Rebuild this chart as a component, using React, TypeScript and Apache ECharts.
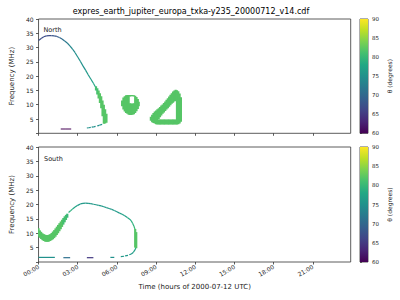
import React, { useEffect, useRef } from 'react';
import * as echarts from 'echarts';

const TITLE = 'expres_earth_jupiter_europa_txka-y235_20000712_v14.cdf';
const X_TICKS = [0, 3, 6, 9, 12, 15, 18, 21];
const VIRIDIS = ['#440154', '#482475', '#414487', '#355f8d', '#2a788e', '#21918c', '#22a884', '#44bf70', '#7ad151', '#bddf26', '#fde725'];

// thin emission tracks: [hour, MHz, theta]
const NORTH_ARC = [
  [0.0, 32.5, 67], [0.2, 33.2, 67], [0.4, 33.8, 67], [0.6, 34.1, 67], [0.8, 34.2, 67], [1.0, 34.2, 68],
  [1.2, 34.1, 68], [1.4, 33.9, 69], [1.6, 33.5, 70], [1.8, 33.0, 71], [2.0, 32.3, 72], [2.2, 31.6, 73],
  [2.4, 30.6, 74], [2.6, 29.5, 74], [2.8, 28.2, 75], [3.0, 26.7, 75], [3.2, 25.2, 75], [3.4, 23.6, 75],
  [3.6, 22.1, 76], [3.8, 20.5, 76], [4.0, 19.0, 77], [4.2, 17.5, 78], [4.35, 16.3, 79],
];
const NORTH_HOOK_1 = [[3.7, 1.85, 75], [3.85, 1.95, 75], [4.0, 2.1, 75]];
const NORTH_HOOK_2 = [[4.07, 2.15, 75], [4.22, 2.27, 75], [4.37, 2.4, 75]];
const NORTH_HOOK_3 = [[4.5, 2.6, 75], [4.65, 2.8, 75], [4.87, 3.1, 76]];
const NORTH_LOW_DASH = [[1.7, 1.5, 60], [2.1, 1.5, 60], [2.5, 1.5, 60]];

const SOUTH_ARC = [
  [2.3, 17.2, 79], [2.45, 17.8, 79], [2.6, 18.4, 78], [2.8, 19.1, 77], [3.0, 19.7, 76], [3.2, 20.2, 76], [3.4, 20.4, 76],
  [3.6, 20.5, 76], [3.8, 20.4, 76], [4.0, 20.3, 76], [4.2, 20.1, 76], [4.4, 19.9, 76], [4.6, 19.7, 76], [4.8, 19.5, 76],
  [5.0, 19.2, 76], [5.2, 18.9, 76], [5.4, 18.6, 76], [5.6, 18.3, 76], [5.8, 17.9, 76], [6.0, 17.5, 76], [6.2, 17.0, 77],
  [6.4, 16.6, 77], [6.6, 16.1, 77], [6.8, 15.5, 78], [7.0, 14.8, 78], [7.1, 14.3, 79], [7.2, 13.5, 79], [7.3, 12.5, 80],
  [7.38, 11.5, 81],
];
const SOUTH_HOOK_1 = [[6.3, 1.9, 76], [6.55, 2.0, 76]];
const SOUTH_HOOK_2 = [[6.63, 2.1, 76], [6.85, 2.3, 76]];
const SOUTH_HOOK_3 = [[6.95, 2.5, 76], [7.1, 2.8, 76], [7.25, 3.3, 77], [7.38, 4.2, 78], [7.45, 4.9, 80]];
const SOUTH_DASH_1 = [[0.0, 1.6, 75], [1.25, 1.6, 75]];
const SOUTH_DASH_2 = [[1.9, 1.5, 71], [2.42, 1.5, 71]];
const SOUTH_DASH_3 = [[3.7, 1.5, 65], [4.2, 1.5, 65]];
const SOUTH_DASH_4 = [[5.5, 1.6, 75], [5.8, 1.6, 75]];

// thick emission regions: [hour, low MHz, high MHz, theta]
const NORTH_BAND = [
  [4.4, 15.0, 16.5, 81], [4.5, 13.6, 15.8, 81], [4.6, 12.2, 15.0, 82], [4.7, 10.6, 14.0, 82], [4.8, 8.8, 13.0, 82],
  [4.9, 6.0, 11.5, 82], [5.0, 3.3, 10.0, 82], [5.1, 3.4, 8.4, 82], [5.2, 3.7, 6.8, 82],
];
const NORTH_EGG = [
  [6.4, 9.5, 11.5, 82], [6.5, 8.3, 12.5, 82], [6.6, 7.6, 13.0, 82], [6.7, 7.1, 13.3, 82], [6.8, 6.8, 13.4, 82],
  [6.9, 6.5, 13.4, 82], [7.0, 6.4, 10.5, 82], [7.0, 12.9, 13.4, 82], [7.1, 6.4, 10.4, 82], [7.1, 13.0, 13.4, 82],
  [7.2, 6.5, 10.4, 82], [7.2, 13.0, 13.4, 82], [7.3, 6.7, 10.5, 82], [7.3, 12.9, 13.3, 82], [7.4, 7.1, 13.1, 82],
  [7.5, 7.7, 12.7, 82], [7.6, 8.5, 12.0, 82], [7.67, 9.5, 11.0, 82],
];
const NORTH_RING = [
  [8.6, 4.4, 5.8, 82], [8.7, 3.9, 6.5, 82], [8.8, 3.6, 7.1, 82], [8.9, 3.4, 7.6, 82], [9.0, 3.2, 8.0, 82], [9.1, 3.1, 8.4, 82],
  [9.2, 3.1, 4.8, 82], [9.2, 5.0, 8.8, 82], [9.3, 3.1, 4.8, 82], [9.3, 5.6, 9.2, 82], [9.4, 3.1, 4.8, 82], [9.4, 6.2, 9.7, 82],
  [9.5, 3.1, 4.8, 82], [9.5, 6.8, 10.1, 82], [9.6, 3.1, 4.8, 82], [9.6, 7.3, 10.6, 82], [9.7, 3.1, 4.8, 82], [9.7, 7.8, 11.1, 82],
  [9.8, 3.1, 4.8, 82], [9.8, 8.3, 11.7, 82], [9.9, 3.1, 4.8, 82], [9.9, 8.8, 12.3, 82], [10.0, 3.1, 4.8, 82], [10.0, 9.3, 12.9, 82],
  [10.1, 3.1, 4.8, 82], [10.1, 9.8, 13.5, 82], [10.2, 3.1, 4.8, 82], [10.2, 10.3, 14.0, 82], [10.3, 3.1, 4.8, 82], [10.3, 10.7, 14.6, 82],
  [10.4, 3.1, 4.8, 82], [10.4, 11.1, 15.0, 82], [10.5, 3.1, 4.8, 82], [10.5, 11.3, 15.2, 82],
  [10.6, 3.1, 15.1, 82], [10.7, 3.2, 14.7, 82], [10.8, 3.4, 13.9, 82], [10.9, 4.0, 12.6, 82],
];
const SOUTH_BAND = [
  [0.0, 8.9, 11.7, 82], [0.1, 8.4, 11.0, 82], [0.2, 8.0, 10.5, 82], [0.3, 7.6, 10.0, 82], [0.4, 7.3, 9.7, 82], [0.5, 7.1, 9.5, 82],
  [0.6, 7.0, 9.4, 82], [0.7, 7.0, 9.4, 82], [0.8, 7.1, 9.5, 82], [0.9, 7.3, 9.7, 82], [1.0, 7.6, 10.1, 82], [1.1, 7.9, 10.6, 82],
  [1.2, 8.3, 11.1, 82], [1.3, 8.8, 11.7, 82], [1.4, 9.4, 12.3, 82], [1.5, 10.0, 12.9, 82], [1.6, 10.7, 13.5, 82], [1.7, 11.4, 14.1, 82],
  [1.8, 12.2, 14.7, 82], [1.9, 13.0, 15.3, 81], [2.0, 13.8, 15.9, 81], [2.1, 14.6, 16.4, 81], [2.2, 15.4, 16.8, 80],
  [7.4, 5.0, 11.5, 82], [7.48, 4.8, 10.4, 82],
];

// thin data rows: [hour, MHz, trackId, theta]
const track = (id: number, arr: number[][]) => arr.map((p) => [p[0], p[1], id, p[2]]);
const NORTH_THIN = [
  ...track(1, NORTH_ARC), ...track(2, NORTH_HOOK_1), ...track(3, NORTH_HOOK_2), ...track(4, NORTH_HOOK_3), ...track(5, NORTH_LOW_DASH),
];
const SOUTH_THIN = [
  ...track(1, SOUTH_ARC), ...track(2, SOUTH_HOOK_1), ...track(3, SOUTH_HOOK_2), ...track(4, SOUTH_HOOK_3),
  ...track(5, SOUTH_DASH_1), ...track(6, SOUTH_DASH_2), ...track(7, SOUTH_DASH_3), ...track(8, SOUTH_DASH_4),
];

const FONT = 'DejaVu Sans';
const CELL_W = 2.2;

function renderCell(params: any, api: any) {
  const t = api.value(0);
  const a = api.coord([t, api.value(1)]);
  const b = api.coord([t, api.value(2)]);
  let y0 = b[1];
  let h = a[1] - b[1];
  if (h < 1.3) {
    y0 = (a[1] + b[1]) / 2 - 0.65;
    h = 1.3;
  }
  return {
    type: 'rect',
    shape: { x: a[0] - CELL_W / 2, y: y0, width: CELL_W, height: h },
    style: { fill: api.visual('color') },
  };
}

function renderTrack(params: any, api: any) {
  const i = params.dataIndexInside;
  const id = api.value(2);
  if (i + 1 >= params.dataInsideLength || api.value(2, i + 1) !== id) return null;
  const a = api.coord([api.value(0), api.value(1)]);
  const b = api.coord([api.value(0, i + 1), api.value(1, i + 1)]);
  return {
    type: 'line',
    shape: { x1: a[0], y1: a[1], x2: b[0], y2: b[1] },
    style: { stroke: api.visual('color'), lineWidth: 1.2, lineCap: 'butt' },
  };
}

function renderBar(params: any, api: any) {
  const p0 = api.coord([0, api.value(1)]);
  const p1 = api.coord([1, api.value(2)]);
  const n = VIRIDIS.length - 1;
  const stops = VIRIDIS.map((c, i) => ({ offset: i / n, color: VIRIDIS[n - i] }));
  return {
    type: 'rect',
    shape: { x: p0[0], y: p1[1], width: p1[0] - p0[0], height: p0[1] - p1[1] },
    style: { fill: new echarts.graphic.LinearGradient(0, 0, 0, 1, stops) },
  };
}

const hh = (v: number) => (v < 10 ? '0' : '') + v + ':00';

export default function App() {
  const ref = useRef<HTMLDivElement>(null);
  useEffect(() => {
    const chart = echarts.init(ref.current!, null, { renderer: 'svg' });
    const grids = [
      { left: 31.7, top: 19, width: 319, height: 114.3 },
      { left: 31.7, top: 147, width: 319, height: 115 },
      { left: 360, top: 19, width: 8, height: 114.3 },
      { left: 360, top: 147, width: 8, height: 115 },
    ].map((g) => ({ ...g, show: true, borderColor: '#333', borderWidth: 0.8, backgroundColor: 'transparent' }));

    const timeAxis = (gi: number, labels: boolean) => ({
      gridIndex: gi,
      type: 'value',
      min: 0,
      max: 23.9,
      interval: 3,
      axisLine: { show: false },
      splitLine: { show: false },
      axisTick: { show: true, customValues: X_TICKS, length: 2.5, lineStyle: { color: '#333', width: 0.8 } },
      axisLabel: {
        show: labels,
        customValues: X_TICKS,
        rotate: 30,
        fontSize: 6,
        fontFamily: FONT,
        color: '#222',
        margin: 4,
        formatter: (v: number) => hh(v),
      },
      name: labels ? 'Time (hours of 2000-07-12 UTC)' : '',
      nameLocation: 'middle',
      nameGap: 21,
      nameTextStyle: { fontSize: 7, fontFamily: FONT, color: '#222' },
    });
    const freqAxis = (gi: number) => ({
      gridIndex: gi,
      type: 'value',
      min: 0,
      max: 40,
      interval: 5,
      axisLine: { show: false },
      splitLine: { show: false },
      axisTick: { show: true, length: 2.5, lineStyle: { color: '#333', width: 0.8 } },
      axisLabel: {
        fontSize: 6,
        fontFamily: FONT,
        color: '#222',
        margin: 5,
        formatter: (v: number) => (v === 0 ? '' : String(v)),
      },
      name: 'Frequency (MHz)',
      nameLocation: 'middle',
      nameGap: 18,
      nameTextStyle: { fontSize: 7, fontFamily: FONT, color: '#222' },
    });
    const barX = (gi: number) => ({ gridIndex: gi, type: 'value', min: 0, max: 1, show: false });
    const barY = (gi: number) => ({
      gridIndex: gi,
      type: 'value',
      position: 'right',
      min: 60,
      max: 90,
      interval: 5,
      axisLine: { show: false },
      splitLine: { show: false },
      axisTick: { show: true, length: 2, lineStyle: { color: '#333', width: 0.7 } },
      axisLabel: { fontSize: 5.5, fontFamily: FONT, color: '#222', margin: 4 },
      name: 'θ (degrees)',
      nameLocation: 'middle',
      nameGap: 18,
      nameTextStyle: { fontSize: 6, fontFamily: FONT, color: '#222' },
    });

    chart.setOption({
      animation: false,
      backgroundColor: '#fff',
      grid: grids,
      xAxis: [timeAxis(0, false), timeAxis(1, true), barX(2), barX(3)],
      yAxis: [freqAxis(0), freqAxis(1), barY(2), barY(3)],
      visualMap: {
        type: 'continuous',
        show: false,
        min: 60,
        max: 90,
        dimension: 3,
        seriesIndex: [0, 1, 2, 3],
        inRange: { color: VIRIDIS },
      },
      series: [
        { type: 'custom', xAxisIndex: 0, yAxisIndex: 0, clip: true, renderItem: renderCell, encode: { x: 0, y: [1, 2] }, data: [...NORTH_BAND, ...NORTH_EGG, ...NORTH_RING] },
        { type: 'custom', xAxisIndex: 1, yAxisIndex: 1, clip: true, renderItem: renderCell, encode: { x: 0, y: [1, 2] }, data: SOUTH_BAND },
        { type: 'custom', xAxisIndex: 0, yAxisIndex: 0, clip: true, renderItem: renderTrack, encode: { x: 0, y: 1 }, data: NORTH_THIN },
        { type: 'custom', xAxisIndex: 1, yAxisIndex: 1, clip: true, renderItem: renderTrack, encode: { x: 0, y: 1 }, data: SOUTH_THIN },
        { type: 'custom', xAxisIndex: 2, yAxisIndex: 2, renderItem: renderBar, data: [[0, 60, 90]] },
        { type: 'custom', xAxisIndex: 3, yAxisIndex: 3, renderItem: renderBar, data: [[0, 60, 90]] },
      ],
      graphic: [
        { type: 'text', x: 191, y: 11, style: { text: TITLE, fontSize: 8, fontFamily: FONT, fill: '#000', textAlign: 'center', textVerticalAlign: 'middle' } },
        { type: 'text', x: 43.5, y: 30, style: { text: 'North', fontSize: 6.5, fontFamily: FONT, fill: '#222', textVerticalAlign: 'middle' } },
        { type: 'text', x: 44, y: 158.5, style: { text: 'South', fontSize: 6.5, fontFamily: FONT, fill: '#222', textVerticalAlign: 'middle' } },
      ],
    });
    return () => chart.dispose();
  }, []);
  return <div ref={ref} style={{ position: 'fixed', left: 0, top: 0, width: 400, height: 300 }} />;
}
